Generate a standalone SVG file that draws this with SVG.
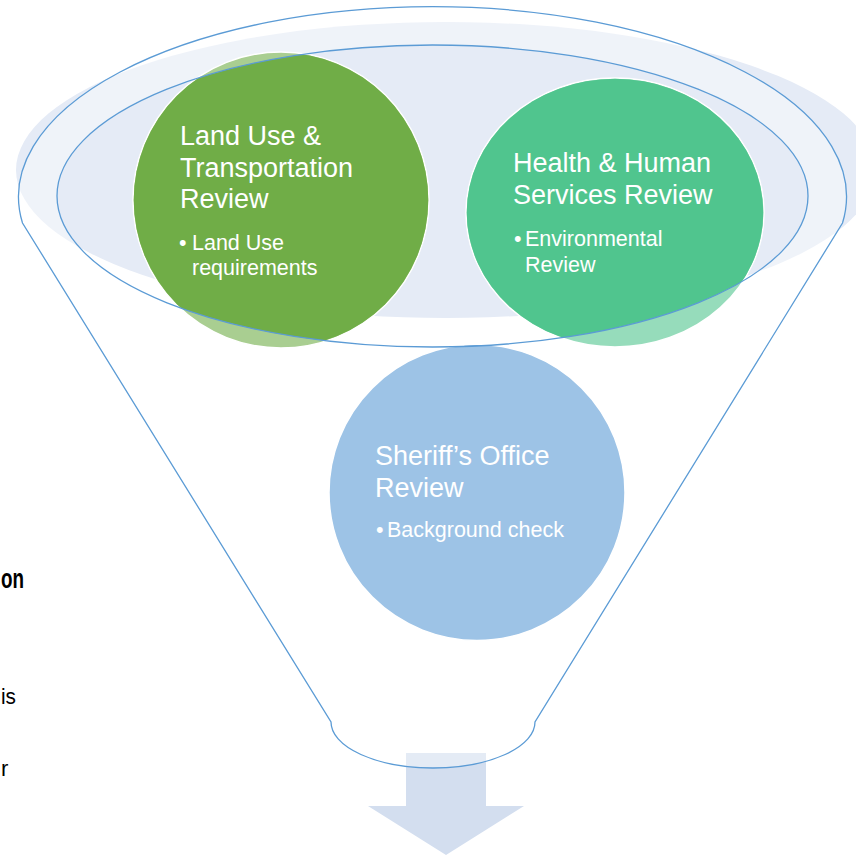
<svg xmlns="http://www.w3.org/2000/svg" width="856" height="855" viewBox="0 0 856 855">
<style>
.head{font-family:"Liberation Sans",Arial,sans-serif;font-size:27px;fill:#fff}
.bul{font-family:"Liberation Sans",Arial,sans-serif;font-size:21.5px;fill:#fff}
.side{font-family:"Liberation Sans",Arial,sans-serif;fill:#000}
.ring{fill:none;stroke:#5B9BD5;stroke-width:1.3}
.circ{stroke:#fff;stroke-width:1.5}
</style>
<defs>
<clipPath id="inner"><ellipse cx="432.5" cy="196" rx="375.5" ry="151"/></clipPath>
</defs>
<rect width="856" height="855" fill="#fff"/>
<g id="side-text">
<text class="side" x="1" y="588" font-size="28" font-weight="bold" textLength="23" lengthAdjust="spacingAndGlyphs">on</text>
<text class="side" x="1" y="704" font-size="22" textLength="15" lengthAdjust="spacingAndGlyphs">is</text>
<text class="side" x="1" y="776" font-size="22">r</text>
</g>
<g id="bowl">
<ellipse cx="446" cy="170" rx="430" ry="148" fill="#E5EBF6"/>
</g>
<g id="arrow">
<path d="M406,753 H486 V806 H524 L446,855 L368,806 H406 Z" fill="#D3DEEF"/>
</g>
<g id="funnel-body">
<path d="M22.5,223 A414,190 0 1,1 842.5,223 L535,722 A102,46 0 0,1 331,722 Z M57,196 A375.5,151 0 1,0 808,196 A375.5,151 0 1,0 57,196 Z" fill="#fff" fill-opacity="0.4" fill-rule="evenodd"/>
</g>
<g id="node-land-use">
<circle class="circ" cx="281" cy="200" r="148" fill="#A9CE91"/>
<circle cx="281" cy="200" r="147.3" fill="#70AD47" clip-path="url(#inner)"/>
<text class="head" x="180" y="145">Land Use &amp;</text>
<text class="head" x="180" y="177">Transportation</text>
<text class="head" x="180" y="208">Review</text>
<text class="bul" x="179" y="250">•</text>
<text class="bul" x="192" y="250">Land Use</text>
<text class="bul" x="192" y="275">requirements</text>
</g>
<g id="node-health">
<ellipse class="circ" cx="615" cy="212.5" rx="149" ry="134.5" fill="#96DCBB"/>
<ellipse cx="615" cy="212.5" rx="148.3" ry="133.8" fill="#50C58E" clip-path="url(#inner)"/>
<text class="head" x="513" y="172">Health &amp; Human</text>
<text class="head" x="513" y="204">Services Review</text>
<text class="bul" x="514" y="246">•</text>
<text class="bul" x="525" y="246">Environmental</text>
<text class="bul" x="525" y="272">Review</text>
</g>
<g id="node-sheriff">
<circle class="circ" cx="477" cy="492.5" r="148" fill="#9DC3E6"/>
<circle cx="477" cy="492.5" r="147.3" fill="#5B9BD5" clip-path="url(#inner)"/>
<text class="head" x="375" y="465">Sheriff’s Office</text>
<text class="head" x="375" y="497">Review</text>
<text class="bul" x="376" y="537">•</text>
<text class="bul" x="387" y="537">Background check</text>
</g>
<g id="connectors">
<path class="ring" d="M22.5,223 A414,190 0 1,1 842.5,223 L535,722 A102,46 0 0,1 331,722 Z"/>
<ellipse class="ring" cx="432.5" cy="196" rx="375.5" ry="151"/>
</g>
</svg>
